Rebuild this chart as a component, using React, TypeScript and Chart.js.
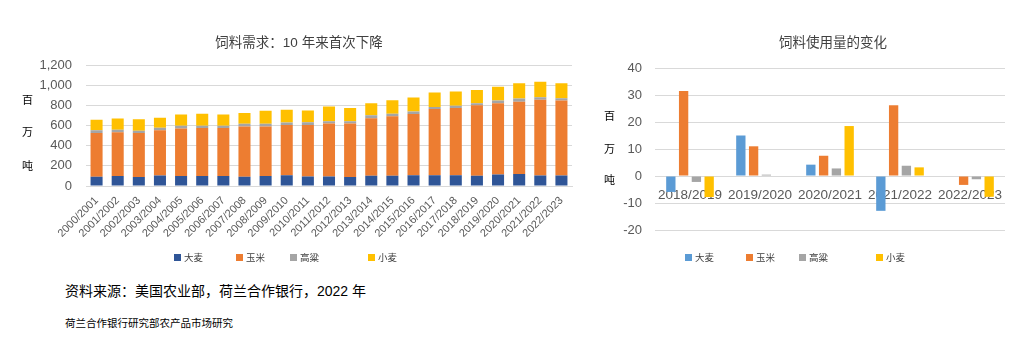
import React, { useEffect, useRef } from "react";
import { Chart, registerables } from "chart.js";
Chart.register(...registerables);

const FONT = '"Liberation Sans", "Noto Sans CJK SC", sans-serif';

const seriesNames = ["大麦", "玉米", "高粱", "小麦"];
const leftColors = ["#2F5597", "#ED7D31", "#A5A5A5", "#FFC000"];
const rightColors = ["#5B9BD5", "#ED7D31", "#A5A5A5", "#FFC000"];

const years = [
  "2000/2001", "2001/2002", "2002/2003", "2003/2004", "2004/2005", "2005/2006",
  "2006/2007", "2007/2008", "2008/2009", "2009/2010", "2010/2011", "2011/2012",
  "2012/2013", "2013/2014", "2014/2015", "2015/2016", "2016/2017", "2017/2018",
  "2018/2019", "2019/2020", "2020/2021", "2021/2022", "2022/2023",
];
const barley = [92, 99, 89, 105, 99, 99, 99, 92, 99, 106, 95, 95, 89, 102, 102, 108, 108, 108, 102, 115, 118, 105, 105];
const corn = [434, 434, 437, 448, 473, 477, 477, 500, 493, 500, 512, 525, 531, 570, 590, 607, 656, 666, 701, 708, 718, 751, 744];
const sorghum = [27, 26, 23, 26, 27, 23, 23, 26, 26, 26, 26, 23, 23, 30, 26, 26, 20, 23, 20, 26, 33, 26, 23];
const wheat = [105, 112, 115, 99, 112, 118, 112, 106, 129, 125, 118, 147, 131, 121, 134, 138, 144, 141, 131, 138, 151, 154, 148];

const changeYears = ["2018/2019", "2019/2020", "2020/2021", "2021/2022", "2022/2023"];
const barleyChange = [-5.9, 15, 4.2, -12.9, 0];
const cornChange = [31.5, 11, 7.5, 26.2, -3.3];
const sorghumChange = [-2.2, 0.5, 2.8, 3.8, -1.2];
const wheatChange = [-7.8, 0, 18.5, 3.2, -7.7];

const leftTitle = "饲料需求：10 年来首次下降";
const rightTitle = "饲料使用量的变化";
const unitChars = ["百", "万", "吨"];
const source = "资料来源：美国农业部，荷兰合作银行，2022 年";
const credit = "荷兰合作银行研究部农产品市场研究";

function Legend({ xs, colors }: { xs: number[]; colors: string[] }) {
  return (
    <>
      {seriesNames.map((n, i) => (
        <div key={n} style={{ position: "absolute", left: xs[i], top: 251, height: 12, display: "flex", alignItems: "center", fontFamily: FONT, fontSize: 9.5, color: "#404040", whiteSpace: "nowrap" }}>
          <span style={{ display: "inline-block", width: 7, height: 7, background: colors[i], marginRight: 3 }} />
          <span>{n}</span>
        </div>
      ))}
    </>
  );
}

function Unit({ x, ys }: { x: number; ys: number[] }) {
  return (
    <>
      {unitChars.map((c, i) => (
        <div key={c} style={{ position: "absolute", left: x - 6, top: ys[i] - 8, width: 12, textAlign: "center", lineHeight: "16px", fontFamily: FONT, fontSize: 11, color: "#000" }}>{c}</div>
      ))}
    </>
  );
}

export default function App() {
  const leftRef = useRef<HTMLCanvasElement>(null);
  const rightRef = useRef<HTMLCanvasElement>(null);

  useEffect(() => {
    Chart.defaults.font.family = FONT;
    const leftData = [barley, corn, sorghum, wheat];
    const c1 = new Chart(leftRef.current!, {
      type: "bar",
      data: {
        labels: years,
        datasets: seriesNames.map((n, i) => ({
          label: n,
          data: leftData[i],
          backgroundColor: leftColors[i],
          categoryPercentage: 1,
          barPercentage: 0.57,
        })),
      },
      options: {
        responsive: false,
        animation: false,
        layout: { padding: { left: 26, right: 28, top: 0, bottom: 0 } },
        plugins: {
          legend: { display: false },
          tooltip: { enabled: false },
          title: {
            display: true,
            text: leftTitle,
            color: "#404040",
            font: { size: 13.5, weight: "normal", family: FONT },
            padding: { top: 35, bottom: 14 },
          },
        },
        scales: {
          x: {
            stacked: true,
            grid: { display: false, drawTicks: false },
            border: { display: true, color: "#D9D9D9" },
            ticks: { minRotation: 45, maxRotation: 45, autoSkip: false, color: "#595959", font: { size: 11 }, padding: 8 },
            afterFit: (s: any) => { s.height = 84; },
          },
          y: {
            stacked: true,
            min: 0,
            max: 1200,
            ticks: { stepSize: 200, padding: 14, color: "#595959", font: { size: 13 } },
            grid: { color: "#D9D9D9", drawTicks: false },
            border: { display: false },
            afterFit: (s: any) => { s.width = 60; },
          },
        },
      } as any,
    });

    const rightData = [barleyChange, cornChange, sorghumChange, wheatChange];
    const c2 = new Chart(rightRef.current!, {
      type: "bar",
      data: {
        labels: changeYears,
        datasets: seriesNames.map((n, i) => ({
          label: n,
          data: rightData[i],
          backgroundColor: rightColors[i],
          categoryPercentage: 0.73,
          barPercentage: 0.73,
        })),
      },
      options: {
        responsive: false,
        animation: false,
        layout: { padding: { left: 20, right: 0, top: 0, bottom: 40 } },
        plugins: {
          legend: { display: false },
          tooltip: { enabled: false },
          title: {
            display: true,
            text: rightTitle,
            color: "#404040",
            font: { size: 13.5, weight: "normal", family: FONT },
            padding: { top: 35, bottom: 16.8 },
          },
        },
        scales: {
          x: {
            position: { y: 0 },
            z: 1,
            grid: { display: false, drawTicks: false },
            border: { display: false },
            ticks: { color: "#595959", font: { size: 13.5 }, padding: 11, maxRotation: 0 },
            afterFit: (s: any) => { s.height = 0; },
          },
          y: {
            min: -20,
            max: 40,
            ticks: { stepSize: 10, padding: 13, color: "#595959", font: { size: 13 } },
            grid: { color: "#D9D9D9", drawTicks: false },
            border: { display: false },
            afterFit: (s: any) => { s.width = 35; },
          },
          yPad: {
            type: "linear",
            position: "right",
            grid: { display: false, drawTicks: false },
            border: { display: false },
            ticks: { display: false },
            afterFit: (s: any) => { s.width = 41; },
          },
        },
      } as any,
    });

    return () => {
      c1.destroy();
      c2.destroy();
    };
  }, []);

  return (
    <div style={{ position: "absolute", left: 0, top: 0, width: 1032, height: 358, background: "#fff", overflow: "hidden" }}>
      <canvas ref={leftRef} width={600} height={270} style={{ position: "absolute", left: 0, top: 0 }} />
      <canvas ref={rightRef} width={446} height={270} style={{ position: "absolute", left: 600, top: 0 }} />
      <Unit x={27.5} ys={[100, 132, 166]} />
      <Unit x={609.5} ys={[116, 149, 180]} />
      <Legend xs={[174, 236, 290, 368]} colors={leftColors} />
      <Legend xs={[685, 746, 799, 876]} colors={rightColors} />
      <div style={{ position: "absolute", left: 65, top: 282, fontFamily: FONT, fontSize: 14, lineHeight: "18px", color: "#000", whiteSpace: "nowrap" }}>{source}</div>
      <div style={{ position: "absolute", left: 65, top: 316, fontFamily: FONT, fontSize: 10.5, lineHeight: "14px", color: "#000", whiteSpace: "nowrap" }}>{credit}</div>
    </div>
  );
}
